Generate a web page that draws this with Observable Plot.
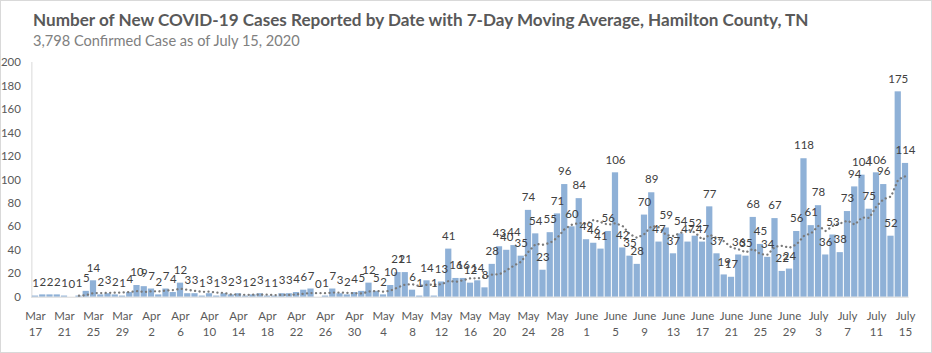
<!DOCTYPE html>
<html><head><meta charset="utf-8">
<script src="https://cdn.jsdelivr.net/npm/d3@7"></script>
<script src="https://cdn.jsdelivr.net/npm/@observablehq/plot@0.6"></script>
<style>
html,body{margin:0;padding:0;background:#fff;}
#wrap{position:relative;width:932px;height:353px;box-sizing:border-box;border:1px solid #d9d9d9;overflow:hidden;font-family:Lato, sans-serif;}
#title{position:absolute;left:32px;top:8px;font-size:17.1px;font-weight:700;color:#595959;white-space:nowrap;}
#subtitle{position:absolute;left:32px;top:31px;font-size:14.6px;color:#808080;white-space:nowrap;}
#chart{position:absolute;left:-1px;top:49px;}
</style></head><body>
<div id="wrap">
<div id="title">Number of New COVID-19 Cases Reported by Date with 7-Day Moving Average, Hamilton County, TN</div>
<div id="subtitle">3,798 Confirmed Case as of July 15, 2020</div>
<div id="chart"></div>
</div>
<script>
// Daily new cases, Mar 17 – Jul 15, 2020
const mar = [1,2,2,2,1,0,1,5,14,2,3,2,1,4,10];                       // Mar 17–31
const apr = [9,7,2,7,4,12,3,3,1,3,1,3,2,3,1,2,3,1,1,3,3,4,6,7,0,1,7,3,2,4];
const may = [5,12,5,2,10,21,21,6,1,14,1,13,41,16,16,12,14,8,28,43,40,44,35,74,54,23,55,71,96,60,84];
const jun = [49,46,41,56,106,42,35,28,70,89,47,59,37,54,47,52,47,77,37,19,17,36,35,68,45,34,67,22,24,56];
const jul = [118,61,78,36,53,38,73,94,104,75,106,96,52,175,114];   // Jul 1–15
const monthNames = ["Mar","Apr","May","June","July"];
const monthFirstDay = [17,1,1,1,1];
const yTicks = [0,20,40,60,80,100,120,140,160,180,200];

const data = [];
[mar, apr, may, jun, jul].forEach((arr, m) => arr.forEach((v, i) => {
  data.push({key: data.length, month: monthNames[m], day: monthFirstDay[m] + i, value: v});
}));
const xTicks = data.filter((d, i) => i % 4 === 0).map(d => d.key);

const chart = Plot.plot({
  width: 932, height: 303,
  marginLeft: 31.4, marginRight: 22.4, marginTop: 12, marginBottom: 56,
  style: {fontFamily: "Lato, sans-serif", fontSize: "11.5px", background: "transparent", color: "#595959"},
  x: {type: "band", domain: data.map(d => d.key), paddingInner: 0.14, paddingOuter: 0.07, axis: null},
  y: {domain: [0, 200], axis: null},
  marks: [
    Plot.frame({anchor: "left", stroke: "#d9d9d9"}),
    Plot.barY(data, {x: "key", y: "value", fill: "#8fb1d7"}),
    Plot.ruleY([0], {stroke: "#d9d9d9"}),
    Plot.lineY(data, Plot.windowY({k: 7, anchor: "end", strict: true},
      {x: "key", y: "value", stroke: "#7a7a7a", strokeWidth: 2.3, strokeDasharray: "0.1 4.4", strokeLinecap: "round"})),
    Plot.text(data, {x: "key", y: "value", text: d => String(d.value), dy: -13, fill: "#404040", fontSize: 11.5}),
    Plot.axisY({ticks: yTicks, tickSize: 0, tickPadding: 11, label: null, fill: "#595959", fontSize: 11.5}),
    Plot.axisX({ticks: xTicks, tickSize: 0, tickPadding: 12, label: null, fill: "#595959", fontSize: 11.5,
      lineHeight: 1.35,
      tickFormat: k => data[k].month + "\n" + data[k].day})
  ]
});
document.getElementById("chart").append(chart);
</script>
</body></html>
